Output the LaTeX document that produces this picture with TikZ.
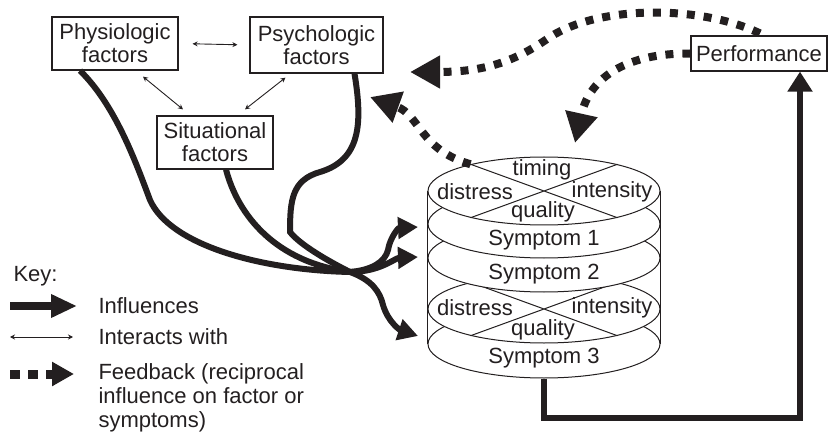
\documentclass[tikz,border=0pt]{standalone}
\usepackage{fontspec}
\setmainfont{Liberation Sans}
\usetikzlibrary{arrows.meta,shapes.geometric,calc}
\definecolor{ink}{HTML}{231F20}
\begin{document}
\begin{tikzpicture}[x=1pt,y=-1pt,
  every node/.style={text=ink, font=\fontsize{22}{23}\selectfont},
  box/.style={draw=ink, line width=1.2pt, fill=white, align=center, inner sep=0pt},
  inflline/.style={draw=ink, line width=6pt},
  infl/.style={draw=ink, line width=6pt, -{Triangle[length=20pt,width=21pt]}},
  inter/.style={draw=ink, line width=0.9pt, {Stealth[length=5pt,width=5pt]}-{Stealth[length=5pt,width=5pt]}},
  feed/.style={draw=ink, line width=8pt, dash pattern=on 8pt off 9pt, -{Triangle[length=30pt,width=31pt]}},
  disc/.style={ellipse, draw=ink, line width=1pt, fill=white, minimum width=232pt, minimum height=68pt, inner sep=0pt},
  thin/.style={draw=ink, line width=1pt},
]
\useasboundingbox (0,0) rectangle (828,433);

% factor boxes
\node[box, minimum width=126pt, minimum height=53pt] (phys) at (115,43.5) {Physiologic\\factors};
\node[box, minimum width=133pt, minimum height=56pt] (psych) at (316.5,45) {Psychologic\\factors};
\node[box, minimum width=116pt, minimum height=53pt] (sit) at (215,142.5) {Situational\\factors};
\node[box, minimum width=136pt, minimum height=35pt] (perf) at (759,53.5) {Performance};

% interactions
\draw[inter, shorten <=14pt, shorten >=12pt] (phys.east) -- (psych.west);
\draw[inter] ($(phys.south)+(28,6)$) -- ($(sit.north)+(-32,-6)$);
\draw[inter] ($(psych.south)+(-31,4)$) -- ($(sit.north)+(30,-6)$);

% cylinder of symptoms
\node[disc] (L5) at (544,344) {};
\node (s3) at (544,358) {Symptom 3};
\node[disc] (L4) at (544,309) {};
\draw[thin] (L4.160) -- (L4.340) (L4.20) -- (L4.200);
\node (d2) at (475,308) {distress};
\node (i2) at (612,308) {intensity};
\node (q2) at (543,330) {quality};
\node[disc] (L3) at (544,258) {};
\node (s2) at (544,274) {Symptom 2};
\node[disc] (L2) at (544,224) {};
\node (s1) at (544,240) {Symptom 1};
\node[disc] (L1) at (544,191) {};
\draw[thin] (L1.160) -- (L1.340) (L1.20) -- (L1.200);
\node (tm) at (542,170) {timing};
\node (d1) at (475,192) {distress};
\node (i1) at (612,192) {intensity};
\node (q1) at (543,212) {quality};
\draw[thin] (L1.west) -- (L5.west) (L1.east) -- (L5.east);

% influences
\coordinate (m) at (350,272);
\coordinate (t1) at (418,227);
\coordinate (t2) at (418,257);
\coordinate (t3) at (418,336);
\draw[inflline] ($(phys.south)+(-35,0)$) .. controls (115,105) and (135,160) .. (150,200) .. controls (170,245) and (260,270) .. (m);
\draw[inflline] ($(sit.south)+(11,0)$) .. controls (238,215) and (275,262) .. (m);
\draw[inflline] ($(psych.south)+(38,0)$) .. controls (363,125) and (360,160) .. (320,172) .. controls (292,180) and (290,200) .. (290,232) .. controls (300,245) and (330,262) .. (m);
\draw[infl] (m) .. controls (380,272) and (395,258) .. (t2);
\draw[infl] (m) .. controls (372,270) and (385,262) .. (388,250) .. controls (390,238) and (398,228) .. (t1);
\draw[infl] (m) .. controls (372,280) and (380,292) .. (383,305) .. controls (388,322) and (400,330) .. (t3);

% performance loop
\coordinate (corner) at (800,418);
\draw[infl, -{Triangle[length=20pt,width=24pt]}] (L5.south) |- (corner) -- (corner |- perf.south);

% feedback
\coordinate (f1) at (410,72);
\coordinate (f2) at (575,143);
\coordinate (f3) at (370,97);
\draw[feed] ($(perf.north)+(1,-2)$) .. controls (700,5) and (600,5) .. (550,37) .. controls (520,58) and (490,72) .. (f1);
\draw[feed] (perf.west) .. controls (630,53) and (590,75) .. (f2);
\draw[feed] (L1.160) .. controls (420,150) and (420,115) .. (f3);

% key
\node[anchor=west] (key) at (10,276) {Key:};
\coordinate (k1a) at (10,306);
\coordinate (k1b) at (77,306);
\draw[infl, line width=8pt, -{Triangle[length=26pt,width=22pt]}] (k1a) -- (k1b);
\node[anchor=west] (kt1) at (95,306) {Influences};
\coordinate (k2a) at (10,337);
\coordinate (k2b) at (73,337);
\draw[inter] (k2a) -- (k2b);
\node[anchor=west] (kt2) at (95,337) {Interacts with};
\coordinate (k3a) at (10,374);
\coordinate (k3b) at (74,374);
\draw[feed, line width=9pt, dash pattern=on 10pt off 8pt, -{Triangle[length=22pt,width=23pt]}] (k3a) -- (k3b);
\node[anchor=west, align=left, font=\fontsize{22}{24}\selectfont] (kt3) at (95,398) {Feedback (reciprocal\\influence on factor or\\symptoms)};
\end{tikzpicture}
\end{document}
